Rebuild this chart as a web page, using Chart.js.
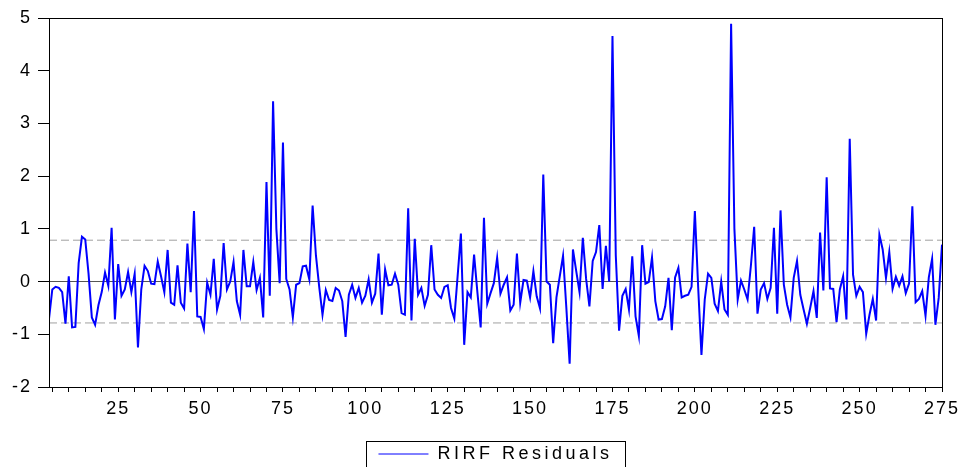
<!DOCTYPE html>
<html>
<head>
<meta charset="utf-8">
<title>RIRF Residuals</title>
<script src="https://cdn.jsdelivr.net/npm/chart.js@4.4.1/dist/chart.umd.min.js"></script>
<style>
  html, body { margin: 0; padding: 0; background: #fff; }
  canvas { display: block; }
</style>
</head>
<body>
<canvas id="resChart" width="961" height="467"></canvas>
<script>
// first observation kept after the lags
const firstObs = 4;
const lastObs = 275;

// residuals, one per observation (4 .. 275)
const residuals = [
  -0.71, -0.15, -0.10, -0.12, -0.20, -0.80, 0.10, -0.87, -0.86, 0.35,
  0.85, 0.80, 0.15, -0.68, -0.82, -0.45, -0.20, 0.17, -0.08, 1.02,
  -0.72, 0.33, -0.27, -0.15, 0.18, -0.20, 0.15, -1.25, -0.15, 0.30,
  0.20, -0.04, -0.05, 0.38, 0.10, -0.20, 0.60, -0.40, -0.44, 0.31,
  -0.40, -0.51, 0.72, -0.20, 1.34, -0.66, -0.67, -0.90, -0.02, -0.25,
  0.43, -0.53, -0.27, 0.73, -0.15, 0.00, 0.37, -0.37, -0.63, 0.60,
  -0.09, -0.09, 0.37, -0.16, 0.07, -0.68, 1.89, -0.27, 3.42, 1.00,
  -0.03, 2.64, 0.05, -0.15, -0.68, -0.06, -0.03, 0.29, 0.30, 0.04,
  1.44, 0.50, -0.10, -0.63, -0.16, -0.35, -0.37, -0.12, -0.17, -0.37,
  -1.05, -0.25, -0.06, -0.31, -0.12, -0.40, -0.27, 0.04, -0.40, -0.23,
  0.53, -0.63, 0.23, -0.07, -0.06, 0.15, -0.06, -0.60, -0.63, 1.39,
  -0.74, 0.81, -0.25, -0.12, -0.46, -0.25, 0.69, -0.15, -0.25, -0.31,
  -0.10, -0.07, -0.50, -0.70, 0.10, 0.91, -1.20, -0.20, -0.30, 0.51,
  -0.20, -0.87, 1.21, -0.42, -0.22, -0.03, 0.45, -0.23, -0.06, 0.08,
  -0.55, -0.44, 0.53, -0.40, 0.03, 0.02, -0.30, 0.20, -0.28, -0.51,
  2.03, 0.00, -0.06, -1.17, -0.30, 0.10, 0.49, -0.50, -1.56, 0.61,
  0.20, -0.20, 0.83, 0.05, -0.47, 0.39, 0.56, 1.07, -0.14, 0.68,
  0.00, 4.66, 0.50, -0.93, -0.27, -0.14, -0.53, 0.48, -0.66, -1.03,
  0.69, -0.04, -0.01, 0.46, -0.37, -0.72, -0.71, -0.47, 0.07, -0.92,
  0.08, 0.26, -0.30, -0.27, -0.25, -0.10, 1.34, -0.10, -1.39, -0.34,
  0.15, 0.07, -0.42, -0.56, 0.00, -0.53, -0.63, 4.89, 1.00, -0.34,
  0.02, -0.15, -0.34, 0.30, 1.04, -0.61, -0.15, -0.03, -0.33, -0.12,
  1.02, -0.61, 1.35, -0.06, -0.44, -0.68, 0.07, 0.39, -0.25, -0.53,
  -0.80, -0.50, -0.18, -0.69, 0.93, -0.17, 1.98, -0.13, -0.14, -0.77,
  -0.15, 0.10, -0.72, 2.71, 0.13, -0.27, -0.10, -0.20, -0.99, -0.63,
  -0.33, -0.74, 0.89, 0.61, 0.07, 0.56, -0.14, 0.09, -0.08, 0.10,
  -0.22, -0.04, 1.43, -0.39, -0.33, -0.18, -0.65, 0.08, 0.43, -0.82,
  -0.31, 0.70
];

// +/- band drawn as dashed lines
const bandValue = 0.785;

// axis ticks
const yMin = -2, yMax = 5, yStep = 1;
const xMinorStep = 5;
const xLabelStep = 25;

const font = { family: "'Liberation Sans', Arial, sans-serif", size: 18 };

const points = residuals.map((v, i) => ({ x: firstObs + i, y: v }));
const bandLine = v => [{ x: firstObs, y: v }, { x: lastObs, y: v }];

// the source uses wide lettering: more for the legend, a bit for tick labels
// (tick labels are drawn after the datasets, see ticks.z)
const spacingPlugin = {
    id: 'spacing',
    beforeLayout(chart) { chart.ctx.letterSpacing = '3.5px'; },
    beforeDraw(chart) { chart.ctx.letterSpacing = '3.5px'; },
    afterDatasetsDraw(chart) { chart.ctx.letterSpacing = '2px'; }
};

// black box round the plot and round the legend
const framePlugin = {
    id: 'frame',
    afterDraw(chart) {
        const { ctx, chartArea: a } = chart;
        ctx.save();
        ctx.strokeStyle = '#000';
        ctx.lineWidth = 1;
        ctx.strokeRect(Math.round(a.left) + 0.5, Math.round(a.top) + 0.5,
            Math.round(a.right - a.left), Math.round(a.bottom - a.top));
        const hb = chart.legend.legendHitBoxes[0];
        if (hb) {
            const left = Math.round(hb.left) - 12;
            const right = Math.round(hb.left + hb.width) + 12;
            ctx.strokeRect(left + 0.5, Math.round(hb.top) - 3.5, right - left, 60);
        }
        ctx.restore();
    }
};

new Chart(document.getElementById('resChart'), {
    type: 'line',
    data: {
        datasets: [
            { label: 'RIRF Residuals', data: points, borderColor: '#0000ff', borderWidth: 2,
              pointRadius: 0, tension: 0, fill: false },
            { label: 'upper', data: bandLine(bandValue), borderColor: '#a0a0a0', borderWidth: 1,
              borderDash: [8, 4], pointRadius: 0, fill: false },
            { label: 'lower', data: bandLine(-bandValue), borderColor: '#a0a0a0', borderWidth: 1,
              borderDash: [8, 4], pointRadius: 0, fill: false }
        ]
    },
    options: {
        responsive: false,
        animation: false,
        devicePixelRatio: 1,
        layout: { padding: { top: 18, right: 19, left: 0, bottom: 0 } },
        plugins: {
            tooltip: { enabled: false },
            legend: {
                position: 'bottom',
                fullSize: false,
                maxHeight: 26,
                labels: {
                    color: '#000',
                    font: font,
                    padding: 4,
                    usePointStyle: true,
                    pointStyle: 'line',
                    pointStyleWidth: 50,
                    generateLabels: chart => Chart.defaults.plugins.legend.labels.generateLabels(chart)
                        .filter(l => l.datasetIndex === 0)
                        .map(l => ({ ...l, lineWidth: 1 }))
                }
            }
        },
        scales: {
            x: {
                type: 'linear',
                min: firstObs,
                max: lastObs,
                afterFit: s => { s.height = 54; s.paddingLeft = 0; s.paddingRight = 0; },
                border: { color: '#000', width: 1 },
                grid: { drawOnChartArea: false, tickColor: '#000', tickLength: 5 },
                ticks: {
                    z: 1,
                    stepSize: xMinorStep,
                    includeBounds: false,
                    autoSkip: false,
                    maxRotation: 0,
                    maxTicksLimit: 100,
                    padding: 6,
                    color: '#000',
                    font: font,
                    callback: v => (v % xLabelStep === 0 ? String(v) : '')
                }
            },
            y: {
                min: yMin,
                max: yMax,
                afterFit: s => { s.width = 49; s.paddingTop = 0; s.paddingBottom = 0; },
                border: { color: '#000', width: 1 },
                grid: {
                    color: c => (c.tick && c.tick.value === 0 ? '#555555' : 'rgba(0,0,0,0)'),
                    tickColor: '#000',
                    tickLength: 11
                },
                ticks: { z: 1, stepSize: yStep, padding: 6, color: '#000', font: font }
            }
        }
    },
    plugins: [spacingPlugin, framePlugin]
});
</script>
</body>
</html>
